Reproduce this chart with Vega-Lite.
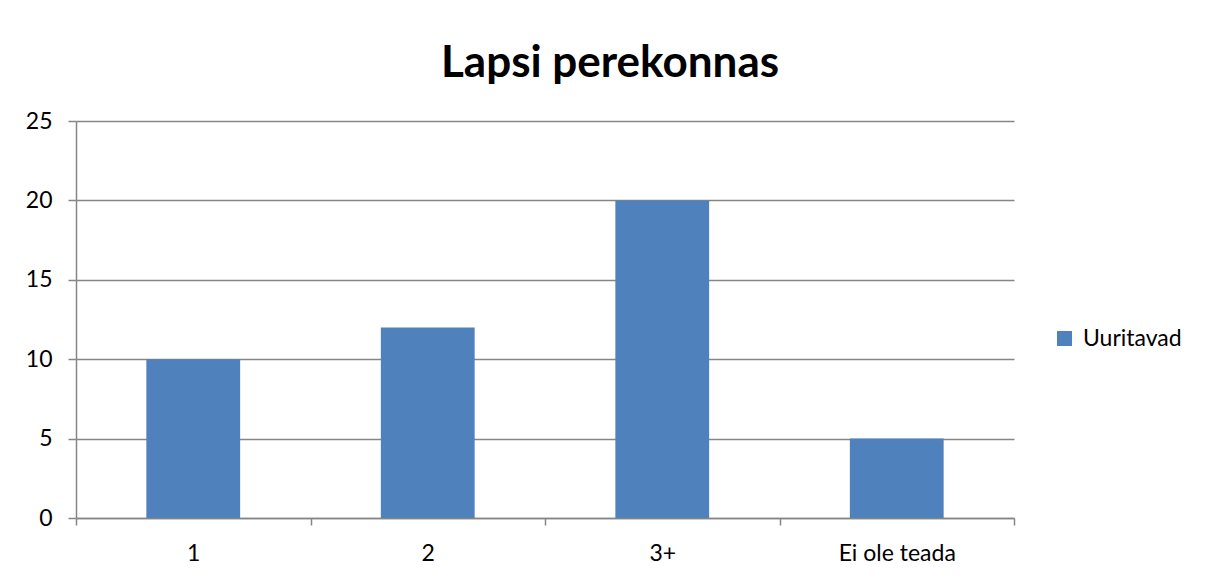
{
  "$schema": "https://vega.github.io/schema/vega-lite/v6.json",
  "width": 938,
  "height": 397,
  "autosize": {"type": "none"},
  "padding": {"left": 76, "top": 121, "right": 192, "bottom": 61},
  "background": "white",
  "title": {
    "text": "Lapsi perekonnas",
    "font": "Lato",
    "fontSize": 44,
    "fontWeight": "bold",
    "color": "#000000",
    "anchor": "middle",
    "dx": 65,
    "offset": 24
  },
  "data": {
    "values": [
      {"category": "1", "value": 10, "series": "Uuritavad"},
      {"category": "2", "value": 12, "series": "Uuritavad"},
      {"category": "3+", "value": 20, "series": "Uuritavad"},
      {"category": "Ei ole teada", "value": 5, "series": "Uuritavad"}
    ]
  },
  "mark": {"type": "bar", "width": {"band": 0.4}},
  "encoding": {
    "x": {
      "field": "category",
      "type": "nominal",
      "sort": null,
      "scale": {"paddingInner": 0, "paddingOuter": 0},
      "axis": {
        "title": null,
        "labelAngle": 0,
        "labelFont": "Lato",
        "labelFontSize": 23,
        "labelColor": "#000000",
        "labelPadding": 17,
        "tickBand": "extent",
        "tickSize": 7,
        "tickColor": "#868686",
        "tickWidth": 1.5,
        "domainColor": "#868686",
        "domainWidth": 1.5,
        "grid": false
      }
    },
    "y": {
      "field": "value",
      "type": "quantitative",
      "scale": {"domain": [0, 25]},
      "axis": {
        "title": null,
        "values": [0, 5, 10, 15, 20, 25],
        "labelFont": "Lato",
        "labelFontSize": 23,
        "labelColor": "#000000",
        "labelPadding": 16,
        "tickSize": 8,
        "tickColor": "#868686",
        "tickWidth": 1.5,
        "domainColor": "#868686",
        "domainWidth": 1.5,
        "grid": true,
        "gridColor": "#868686",
        "gridWidth": 1.5
      }
    },
    "color": {
      "field": "series",
      "type": "nominal",
      "scale": {"range": ["#4F81BD"]},
      "legend": {
        "title": null,
        "orient": "none",
        "legendX": 977,
        "legendY": 206,
        "symbolType": "square",
        "symbolSize": 225,
        "symbolStrokeWidth": 0,
        "labelFont": "Lato",
        "labelFontSize": 23,
        "labelColor": "#000000",
        "labelOffset": 7,
        "padding": 0
      }
    }
  },
  "config": {
    "view": {"stroke": null}
  }
}
